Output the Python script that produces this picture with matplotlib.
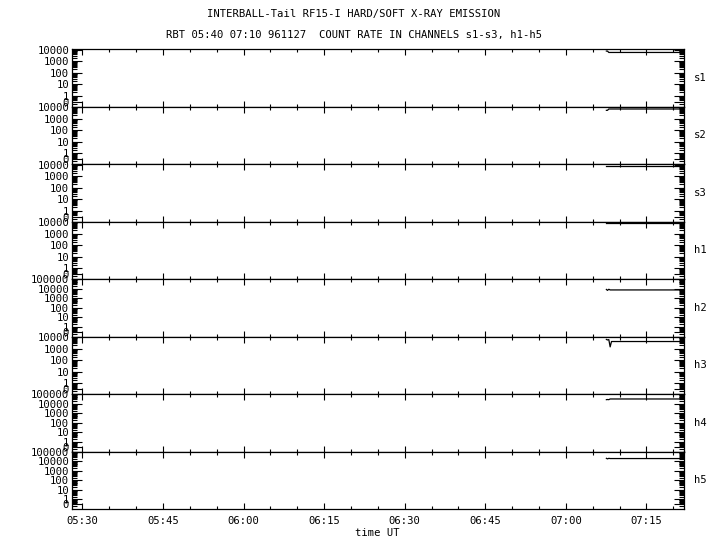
import matplotlib
matplotlib.use("Agg")
import matplotlib.pyplot as plt
from matplotlib.ticker import FixedLocator, LogLocator, NullFormatter, FuncFormatter, MultipleLocator

# ---- data (time in minutes after 05:30 UT) ----
channels = ["s1", "s2", "s3", "h1", "h2", "h3", "h4", "h5"]
times = [97.55, 97.75, 98.0, 98.25, 98.5, 100.0, 104.0, 108.0, 112.0]
s1 = [7400, 7400, 5600, 5600, 5600, 5600, 5600, 5600, 5600]
s2 = [5200, 5200, 6800, 6800, 6800, 6800, 6800, 6800, 6800]
s3 = [8200, 8200, 8200, 8200, 8200, 8200, 8200, 8200, 8200]
h1 = [7600, 7600, 7600, 7600, 7600, 7600, 7600, 7600, 7600]
h2 = [8800, 7000, 9200, 7800, 7800, 7800, 7800, 7800, 7800]
h3 = [6200, 5600, 6000, 1400, 4100, 4100, 4100, 4100, 4100]
h4 = [28000, 29000, 28000, 33000, 33000, 33000, 33000, 33000, 33000]
h5 = [21000, 18500, 21000, 20000, 20000, 20000, 20000, 20000, 20000]
series = [s1, s2, s3, h1, h2, h3, h4, h5]
panel_max = [1e4, 1e4, 1e4, 1e4, 1e5, 1e4, 1e5, 1e5]
tick_vals_4 = [0.3, 1, 10, 100, 1000, 10000]
tick_labs_4 = ["0", "1", "10", "100", "1000", "10000"]
tick_vals_5 = [0.3, 1, 10, 100, 1000, 10000, 100000]
tick_labs_5 = ["0", "1", "10", "100", "1000", "10000", "100000"]
title1 = "INTERBALL-Tail RF15-I HARD/SOFT X-RAY EMISSION"
title2 = "RBT 05:40 07:10 961127  COUNT RATE IN CHANNELS s1-s3, h1-h5"
xlabel = "time UT"

FONT = "DejaVu Sans Mono"
FS = 7.6

fig = plt.figure(figsize=(7.2, 5.5), dpi=100)
L, R = 72 / 720, 684 / 720
top_px, bot_px = 49, 509
ph = (bot_px - top_px) / 8

def fmt_time(m, pos):
    tot = int(round(m)) + 5 * 60 + 30
    return "%02d:%02d" % (tot // 60, tot % 60)

for i, (name, vals, vmax) in enumerate(zip(channels, series, panel_max)):
    y0 = top_px + i * ph
    ax = fig.add_axes([L, 1 - (y0 + ph) / 550, R - L, ph / 550])
    ax.plot(times, vals, color="black", lw=0.9)
    ax.set_yscale("log")
    if vmax > 1e4:
        ax.set_ylim(0.1, 1.1e5)
        tv, tl = tick_vals_5, tick_labs_5
    else:
        ax.set_ylim(0.112, 1.12e4)
        tv, tl = tick_vals_4, tick_labs_4
    ax.yaxis.set_major_locator(FixedLocator(tv))
    ax.set_yticklabels(tl, fontsize=FS, family=FONT)
    ax.yaxis.set_minor_locator(LogLocator(base=10, subs=range(2, 10), numticks=30))
    ax.yaxis.set_minor_formatter(NullFormatter())
    ax.set_xlim(-1.95, 112.0)
    ax.xaxis.set_major_locator(MultipleLocator(15))
    ax.xaxis.set_minor_locator(MultipleLocator(5))
    ax.xaxis.set_major_formatter(FuncFormatter(fmt_time))
    ax.tick_params(axis="y", which="major", direction="in", length=7.5, width=0.8,
                   left=True, right=True, pad=2)
    ax.tick_params(axis="y", which="minor", direction="in", length=3.5, width=0.8,
                   left=True, right=True)
    ax.tick_params(axis="x", which="major", direction="in", length=4, width=0.8,
                   top=True, bottom=True)
    ax.tick_params(axis="x", which="minor", direction="in", length=2, width=0.8,
                   top=True, bottom=True)
    for sp in ax.spines.values():
        sp.set_linewidth(0.9)
    ax.text(1.016, 0.5, name, transform=ax.transAxes, ha="left", va="center",
            fontsize=FS, family=FONT)
    if i < 7:
        ax.tick_params(axis="x", labelbottom=False)
    else:
        for lab in ax.get_xticklabels():
            lab.set_fontsize(FS)
            lab.set_family(FONT)
        ax.tick_params(axis="x", pad=5)

fig.text(0.5236, 1 - 533 / 550, xlabel, ha="center", va="center", fontsize=FS, family=FONT)
fig.text(0.4917, 1 - 14 / 550, title1, ha="center", va="center", fontsize=FS, family=FONT)
fig.text(0.4917, 1 - 35 / 550, title2, ha="center", va="center", fontsize=FS, family=FONT)

fig.savefig("out.png", dpi=100)
